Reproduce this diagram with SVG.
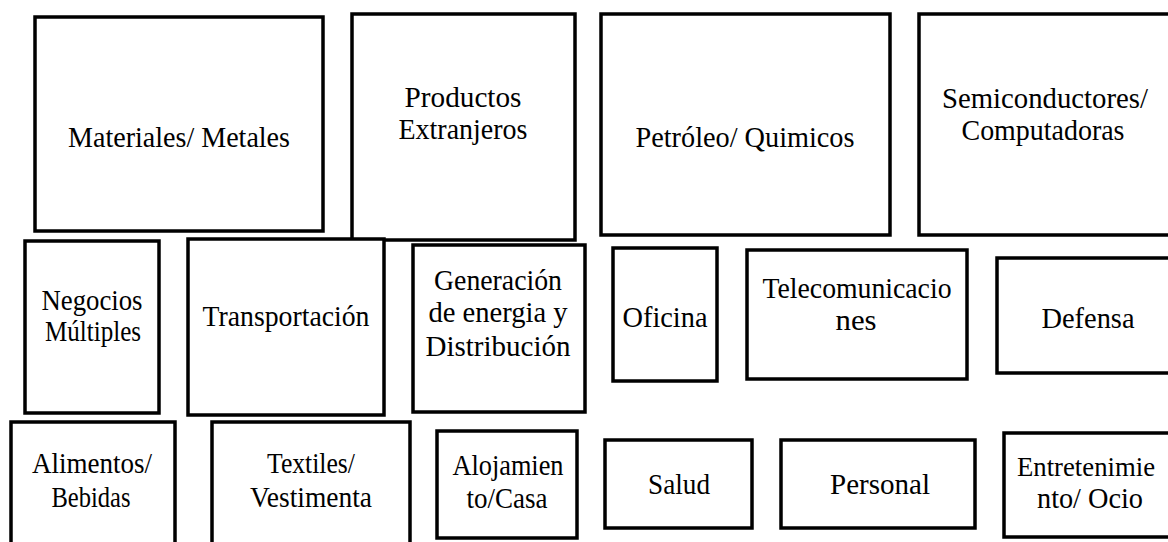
<svg xmlns="http://www.w3.org/2000/svg" width="1168" height="542" viewBox="0 0 1168 542">
<style>
rect{fill:#fff;stroke:#000;stroke-width:3.5}
text{font-family:"Liberation Serif","Times New Roman",serif;font-size:30px;fill:#000;text-anchor:middle}
</style>
<rect x="0" y="0" width="1168" height="542" style="stroke:none"/>
<g id="materiales"><rect x="35" y="17" width="288" height="214"/><text x="179" y="147" textLength="222" lengthAdjust="spacingAndGlyphs">Materiales/  Metales</text></g>
<g id="productos"><rect x="352" y="14" width="223" height="226"/><text x="463" y="107" textLength="117" lengthAdjust="spacingAndGlyphs">Productos</text><text x="463" y="139" textLength="129" lengthAdjust="spacingAndGlyphs">Extranjeros</text></g>
<g id="petroleo"><rect x="601" y="14" width="289" height="221"/><text x="745" y="147" textLength="219" lengthAdjust="spacingAndGlyphs">Petróleo/ Quimicos</text></g>
<g id="semiconductores"><rect x="919" y="14" width="251" height="221"/><text x="1045" y="108" textLength="206" lengthAdjust="spacingAndGlyphs">Semiconductores/</text><text x="1043" y="140" textLength="163" lengthAdjust="spacingAndGlyphs">Computadoras</text></g>
<g id="negocios"><rect x="25" y="241" width="134" height="172"/><text x="92" y="310" textLength="101" lengthAdjust="spacingAndGlyphs">Negocios</text><text x="93" y="341" textLength="96" lengthAdjust="spacingAndGlyphs">Múltiples</text></g>
<g id="transportacion"><rect x="188" y="239" width="196" height="176"/><text x="286" y="326" textLength="167" lengthAdjust="spacingAndGlyphs">Transportación</text></g>
<g id="generacion"><rect x="413" y="245" width="172" height="167"/><text x="498" y="290" textLength="128" lengthAdjust="spacingAndGlyphs">Generación</text><text x="498" y="322" textLength="139" lengthAdjust="spacingAndGlyphs">de energia y</text><text x="498" y="356" textLength="145" lengthAdjust="spacingAndGlyphs">Distribución</text></g>
<g id="oficina"><rect x="613" y="248" width="104" height="133"/><text x="665" y="327" textLength="85" lengthAdjust="spacingAndGlyphs">Oficina</text></g>
<g id="telecomunicaciones"><rect x="747" y="250" width="220" height="129"/><text x="857" y="298" textLength="189" lengthAdjust="spacingAndGlyphs">Telecomunicacio</text><text x="856" y="330" textLength="41" lengthAdjust="spacingAndGlyphs">nes</text></g>
<g id="defensa"><rect x="997" y="258" width="173" height="115"/><text x="1088" y="328" textLength="93" lengthAdjust="spacingAndGlyphs">Defensa</text></g>
<g id="alimentos"><rect x="11" y="422" width="164" height="125"/><text x="92" y="473" textLength="120" lengthAdjust="spacingAndGlyphs">Alimentos/</text><text x="91" y="507" textLength="79" lengthAdjust="spacingAndGlyphs">Bebidas</text></g>
<g id="textiles"><rect x="212" y="422" width="198" height="125"/><text x="311" y="473" textLength="88" lengthAdjust="spacingAndGlyphs">Textiles/</text><text x="311" y="507" textLength="122" lengthAdjust="spacingAndGlyphs">Vestimenta</text></g>
<g id="alojamiento"><rect x="437" y="431" width="140" height="107"/><text x="508" y="475" textLength="111" lengthAdjust="spacingAndGlyphs">Alojamien</text><text x="507" y="508" textLength="81" lengthAdjust="spacingAndGlyphs">to/Casa</text></g>
<g id="salud"><rect x="605" y="440" width="147" height="88"/><text x="679" y="494" textLength="62" lengthAdjust="spacingAndGlyphs">Salud</text></g>
<g id="personal"><rect x="781" y="440" width="194" height="88"/><text x="880" y="494" textLength="100" lengthAdjust="spacingAndGlyphs">Personal</text></g>
<g id="entretenimiento"><rect x="1004" y="433" width="166" height="104"/><text x="1086" y="476" style="font-size:28px" textLength="138" lengthAdjust="spacingAndGlyphs">Entretenimie</text><text x="1090" y="508" textLength="106" lengthAdjust="spacingAndGlyphs">nto/ Ocio</text></g>
<g id="connectors"></g>
</svg>
